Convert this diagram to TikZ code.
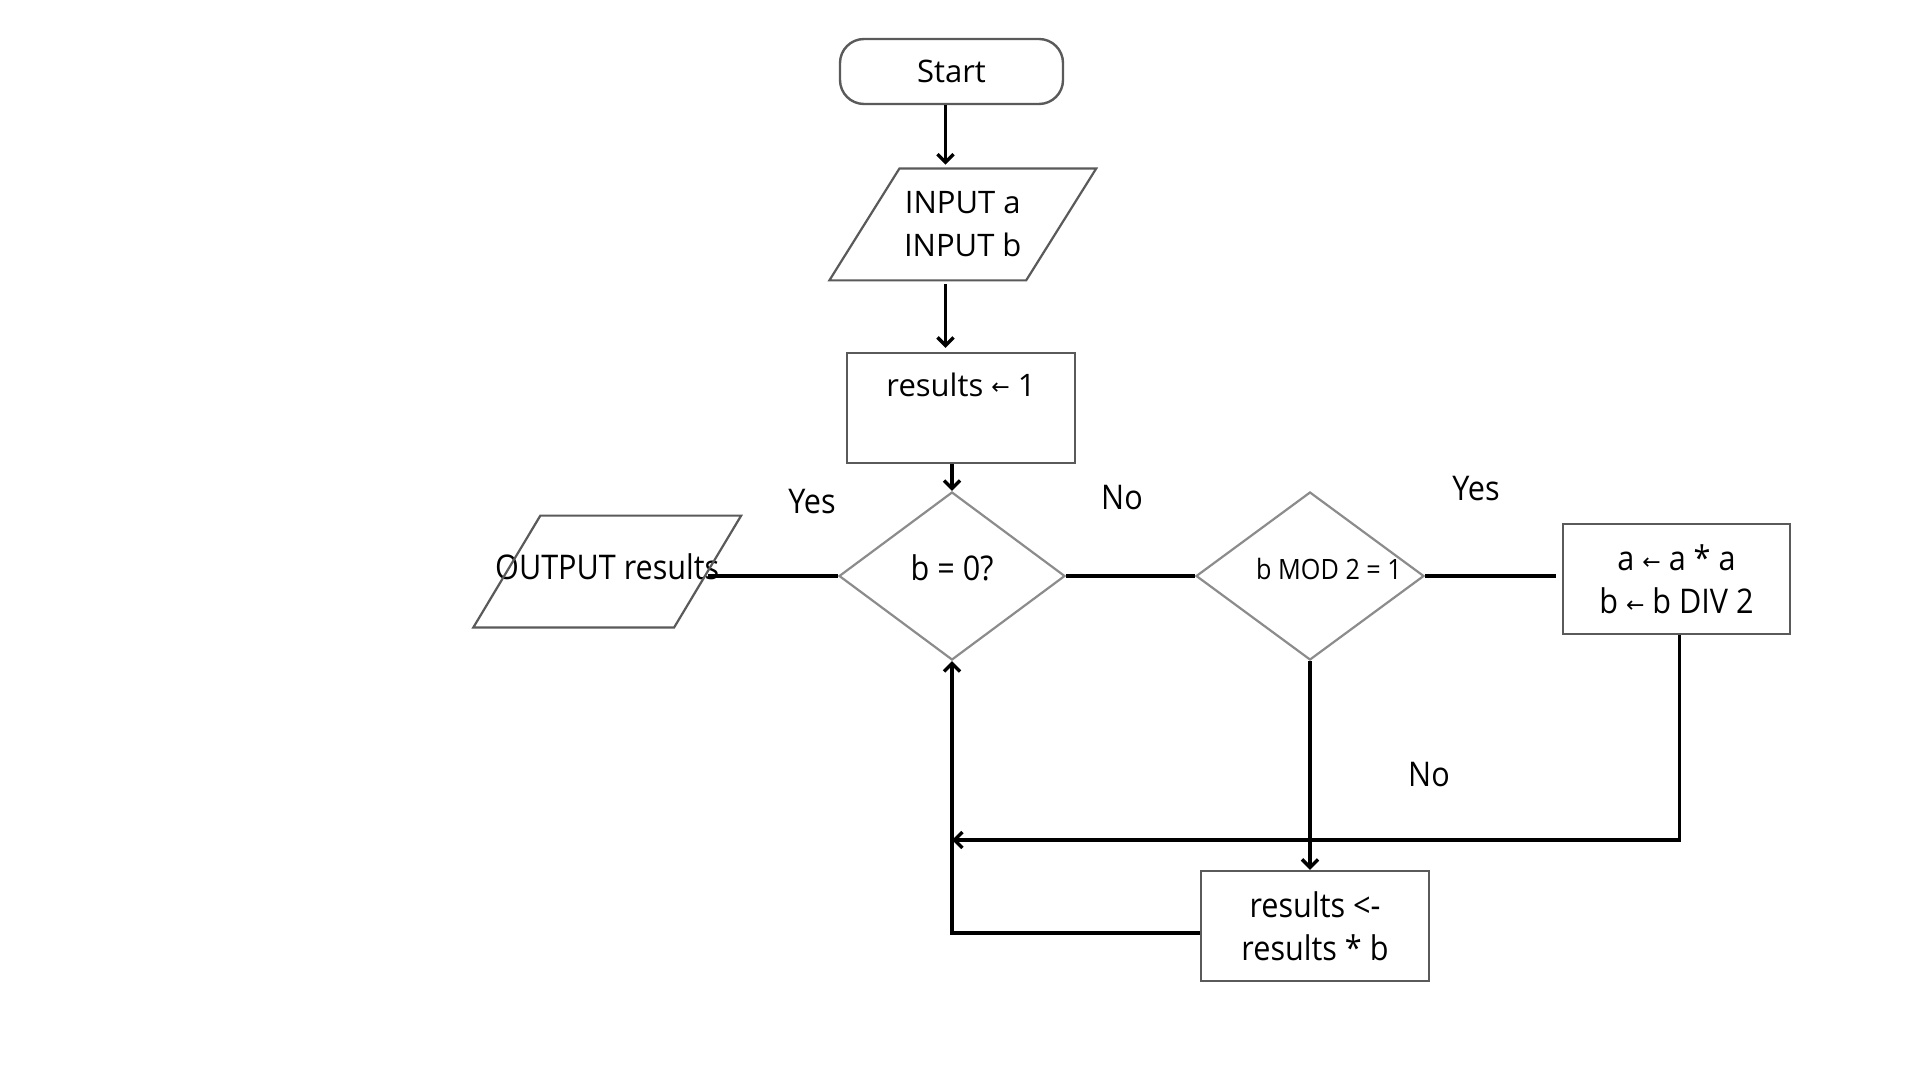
\documentclass[tikz,border=0pt]{standalone}
\usepackage{fontspec}
\setmainfont{Open Sans}
\newfontfamily\condfont[FakeStretch=0.9]{Open Sans}
\newfontfamily\arrfont{DejaVu Sans}
\usetikzlibrary{arrows.meta,shapes.geometric}
\newcommand{\larr}{{\arrfont\fontsize{11}{11}\selectfont\raisebox{0.6pt}{←}}}
\definecolor{boxgray}{HTML}{5A5A5A}
\definecolor{diagray}{HTML}{8C8C8C}
\tikzset{
  basefont/.style={font=\fontsize{15.5}{21.5}\selectfont, align=center},
  cond/.style={font=\condfont\fontsize{17}{21.5}\selectfont, align=center},
  smallcond/.style={font=\condfont\fontsize{14}{17}\selectfont, align=center},
  box/.style={draw=boxgray, line width=1.2pt, rectangle, inner sep=0pt},
  para/.style={draw=boxgray, line width=1.1pt},
  dia/.style={draw=diagray, line width=1.1pt, diamond, inner sep=0pt},
  conn/.style={line width=1.7pt, black},
  arr/.style={conn, -{Straight Barb[length=4pt,width=8pt]}},
}
\begin{document}
\begin{tikzpicture}[x=0.5pt, y=-0.5pt]
\useasboundingbox[fill=white] (0,0) rectangle (1920,1080);

% nodes
\node[box, rounded corners=12pt, minimum width=111.5pt, minimum height=32.5pt, basefont] (start) at (951.5,71.5) {Start};
\node[minimum width=98pt, minimum height=55.5pt, inner sep=0pt, basefont] (in) at (962.75,224.5) {INPUT a\\INPUT b};
\draw[para] ([xshift=17.5pt]in.north west) -- ([xshift=17.5pt]in.north east) -- ([xshift=-17.5pt]in.south east) -- ([xshift=-17.5pt]in.south west) -- cycle;
\node[box, minimum width=114pt, minimum height=55pt, basefont, text height=10pt, text depth=22pt] (r1) at (961,408) {results \larr\ 1};
\node[dia, minimum width=113pt, minimum height=84pt, label={[cond, yshift=4pt]center:b = 0?}] (d1) at (952,576) {};
\node[minimum width=100pt, minimum height=55.5pt, inner sep=0pt, cond, text height=13pt, text depth=5pt] (out) at (607.25,571.5) {\makebox[0pt]{OUTPUT results}};
\draw[para] ([xshift=16.75pt]out.north west) -- ([xshift=16.75pt]out.north east) -- ([xshift=-16.75pt]out.south east) -- ([xshift=-16.75pt]out.south west) -- cycle;
\node[dia, minimum width=114pt, minimum height=84pt, label={[smallcond, xshift=9.5pt, yshift=3.5pt]center:b MOD 2 = 1}] (d2) at (1310,576) {};
\node[box, minimum width=113.5pt, minimum height=55pt, cond] (b2) at (1676.5,579) {a \larr\ a * a\\b \larr\ b DIV 2};
\node[box, minimum width=114pt, minimum height=55pt, cond] (b3) at (1315,926) {results <-\\results * b};

% labels
\node[cond] (yes1) at (812,502) {Yes};
\node[cond] (no1) at (1122,498) {No};
\node[cond] (yes2) at (1476,489) {Yes};
\node[cond] (no2) at (1429,775) {No};

% connectors
\coordinate (loopY) at (0,840);
\draw[arr, shorten >=2pt] ([xshift=-3pt]start.south) -- ([xshift=-3pt]start.south |- in.north);
\draw[arr, shorten >=2pt, shorten <=2pt] ([xshift=-3pt]start.south |- in.south) -- ([xshift=-3pt]start.south |- r1.north);
\draw[arr] (d1.north |- r1.south) -- (d1.north);
\draw[conn] (d1.west) -- (d1.west -| out.east);
\draw[conn] (d1.east) -- (d2.west);
\draw[conn, shorten >=3pt] (d2.east) -- (d2.east -| b2.west);
\draw[arr] ([xshift=1.5pt]b2.south) -- ([xshift=1.5pt]b2.south |- loopY) -- (d1.south |- loopY);
\draw[arr] (d2.south) -- (d2.south |- b3.north);
\draw[arr] ([yshift=-3.5pt]b3.west) -| (d1.south);
\end{tikzpicture}
\end{document}
